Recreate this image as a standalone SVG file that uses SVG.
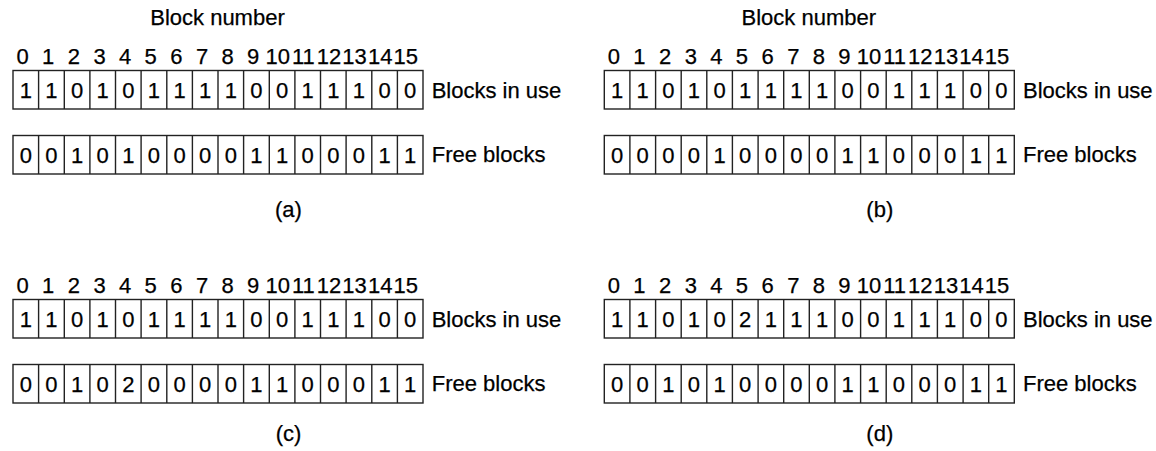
<svg xmlns="http://www.w3.org/2000/svg" xmlns:xlink="http://www.w3.org/1999/xlink" width="1156" height="451" viewBox="0 0 1156 451">
<style>
text{font-family:"Liberation Sans",Arial,sans-serif;font-size:22px;fill:#000;stroke:#000;stroke-width:0.25}
.bit{text-anchor:middle}
.mid{text-anchor:middle}
.grid rect,.grid path{fill:none;stroke:#222;stroke-width:1.4}
</style>
<defs>
<g id="row" class="grid">
<rect x="0" y="0" width="410" height="38.5"/>
<path d="M25.6 0V38.5M51.3 0V38.5M76.9 0V38.5M102.5 0V38.5M128.1 0V38.5M153.8 0V38.5M179.4 0V38.5M205 0V38.5M230.6 0V38.5M256.3 0V38.5M281.9 0V38.5M307.5 0V38.5M333.1 0V38.5M358.8 0V38.5M384.4 0V38.5"/>
</g>
<text id="idx" class="mid" y="63.5"><tspan x="9.6">0</tspan><tspan x="35.2">1</tspan><tspan x="60.9">2</tspan><tspan x="86.5">3</tspan><tspan x="112.1">4</tspan><tspan x="137.7">5</tspan><tspan x="163.4">6</tspan><tspan x="189">7</tspan><tspan x="214.6">8</tspan><tspan x="240.2">9</tspan><tspan x="264.8">10</tspan><tspan x="290.4">11</tspan><tspan x="316">12</tspan><tspan x="341.6">13</tspan><tspan x="367.2">14</tspan><tspan x="392.8">15</tspan></text>
</defs>

<g id="panel-a" transform="translate(13,0)">
<text class="mid" x="204.5" y="25">Block number</text>
<use xlink:href="#idx"/>
<g id="a-use"><use xlink:href="#row" y="70.5"/>
<text class="bit" y="98" x="12.8 38.4 64.1 89.7 115.3 140.9 166.6 192.2 217.8 243.4 269.1 294.7 320.3 345.9 371.6 397.2">1101011110011100</text>
<text x="418.7" y="97.5">Blocks in use</text></g>
<g id="a-free"><use xlink:href="#row" y="135.5"/>
<text class="bit" y="162.5" x="12.8 38.4 64.1 89.7 115.3 140.9 166.6 192.2 217.8 243.4 269.1 294.7 320.3 345.9 371.6 397.2">0010100001100011</text>
<text x="418.7" y="162">Free blocks</text></g>
<text class="mid" x="275.5" y="217">(a)</text>
</g>

<g id="panel-b" transform="translate(604.3,0)">
<text class="mid" x="204.5" y="25">Block number</text>
<use xlink:href="#idx"/>
<g id="b-use"><use xlink:href="#row" y="70.5"/>
<text class="bit" y="98" x="12.8 38.4 64.1 89.7 115.3 140.9 166.6 192.2 217.8 243.4 269.1 294.7 320.3 345.9 371.6 397.2">1101011110011100</text>
<text x="418.7" y="97.5">Blocks in use</text></g>
<g id="b-free"><use xlink:href="#row" y="135.5"/>
<text class="bit" y="162.5" x="12.8 38.4 64.1 89.7 115.3 140.9 166.6 192.2 217.8 243.4 269.1 294.7 320.3 345.9 371.6 397.2">0000100001100011</text>
<text x="418.7" y="162">Free blocks</text></g>
<text class="mid" x="275.5" y="217">(b)</text>
</g>

<g id="panel-c" transform="translate(13,229)">
<use xlink:href="#idx"/>
<g id="c-use"><use xlink:href="#row" y="70.5"/>
<text class="bit" y="98" x="12.8 38.4 64.1 89.7 115.3 140.9 166.6 192.2 217.8 243.4 269.1 294.7 320.3 345.9 371.6 397.2">1101011110011100</text>
<text x="418.7" y="97.5">Blocks in use</text></g>
<g id="c-free"><use xlink:href="#row" y="135.5"/>
<text class="bit" y="162.5" x="12.8 38.4 64.1 89.7 115.3 140.9 166.6 192.2 217.8 243.4 269.1 294.7 320.3 345.9 371.6 397.2">0010200001100011</text>
<text x="418.7" y="162">Free blocks</text></g>
<text class="mid" x="275.5" y="212">(c)</text>
</g>

<g id="panel-d" transform="translate(604.3,229)">
<use xlink:href="#idx"/>
<g id="d-use"><use xlink:href="#row" y="70.5"/>
<text class="bit" y="98" x="12.8 38.4 64.1 89.7 115.3 140.9 166.6 192.2 217.8 243.4 269.1 294.7 320.3 345.9 371.6 397.2">1101021110011100</text>
<text x="418.7" y="97.5">Blocks in use</text></g>
<g id="d-free"><use xlink:href="#row" y="135.5"/>
<text class="bit" y="162.5" x="12.8 38.4 64.1 89.7 115.3 140.9 166.6 192.2 217.8 243.4 269.1 294.7 320.3 345.9 371.6 397.2">0010100001100011</text>
<text x="418.7" y="162">Free blocks</text></g>
<text class="mid" x="275.5" y="212">(d)</text>
</g>
</svg>
